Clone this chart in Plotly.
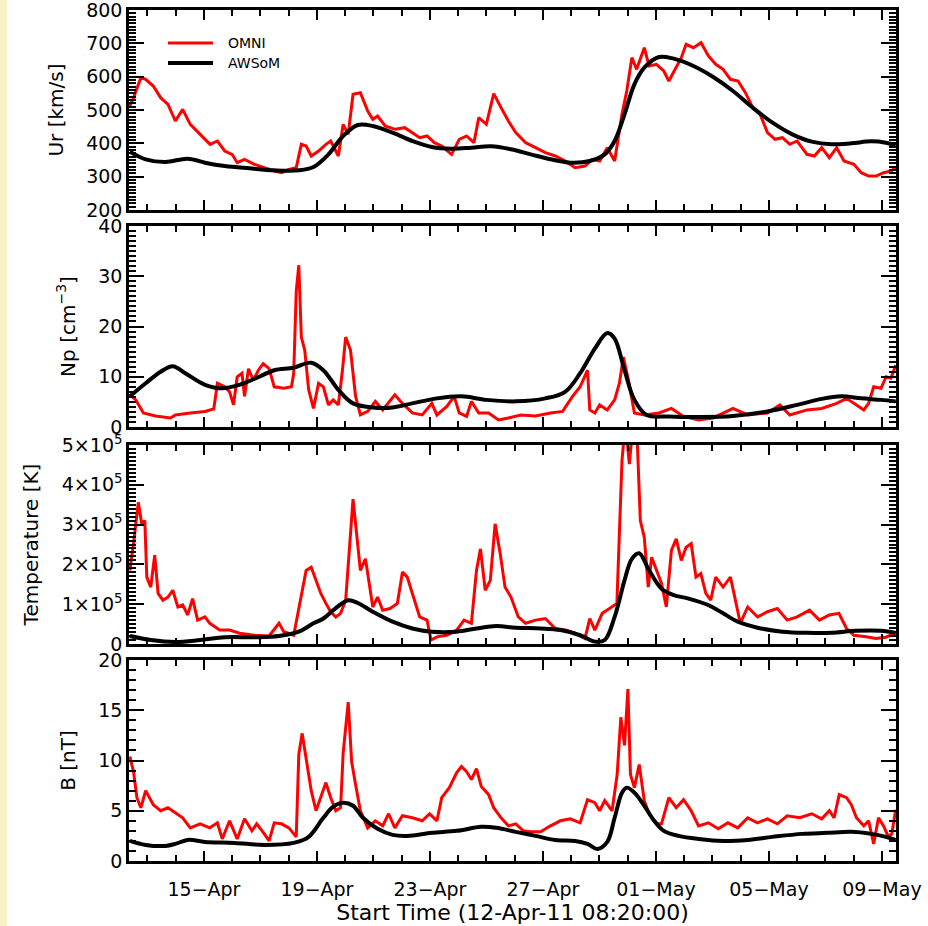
import plotly.graph_objects as go
import pandas as pd

START = "2011-04-12 08:20:00"
END_DAYS = 27.15

# ---------------- Ur [km/s] ----------------
ur_omni_day = [0.03, 0.16, 0.42, 0.59, 0.86, 1.12, 1.38, 1.64, 1.90, 2.17, 2.52, 2.87, 3.13, 3.39, 3.65, 3.83,
               4.09, 4.44, 4.79, 5.14, 5.40, 5.66, 5.92, 6.10, 6.27, 6.45, 6.71, 6.97, 7.14, 7.41, 7.58, 7.76,
               7.93, 8.19, 8.45, 8.63, 8.80, 9.07, 9.42, 9.76, 10.03, 10.29, 10.55, 10.81, 11.07, 11.42, 11.69,
               11.95, 12.21, 12.38, 12.65, 12.91, 13.17, 13.43, 13.69, 14.04, 14.39, 14.74, 15.09, 15.44, 15.79,
               16.14, 16.40, 16.66, 16.93, 17.19, 17.45, 17.62, 17.80, 17.97, 18.24, 18.41, 18.67, 18.93, 19.11,
               19.37, 19.55, 19.72, 19.98, 20.25, 20.51, 20.77, 21.03, 21.29, 21.56, 21.82, 22.08, 22.34, 22.60,
               22.87, 23.13, 23.39, 23.65, 24.00, 24.26, 24.52, 24.79, 25.05, 25.31, 25.66, 25.92, 26.18, 26.45,
               26.71, 26.97, 27.14]
ur_omni = [512, 537, 597, 592, 572, 537, 517, 467, 502, 457, 427, 397, 407, 377, 367, 342,
           352, 337, 327, 317, 312, 322, 327, 397, 392, 362, 377, 397, 407, 362, 457, 427,
           547, 552, 497, 472, 482, 452, 442, 447, 432, 417, 422, 402, 392, 367, 412,
           422, 402, 477, 457, 549, 507, 467, 432, 402, 387, 372, 362, 347, 327,
           332, 352, 347, 387, 347, 487, 557, 657, 622, 687, 632, 637, 617, 587,
           627, 657, 697, 687, 702, 662, 637, 622, 592, 587, 552, 507, 487, 432,
           412, 417, 397, 407, 367, 362, 387, 357, 387, 347, 337, 312, 302, 302,
           312, 317, 327]

ur_awsom_day = [0.03, 0.59, 1.29, 2.08, 2.69, 3.39, 4.26, 5.14, 6.01, 6.53, 7.06, 7.58, 8.10, 8.63, 9.33, 10.03,
                10.72, 11.42, 12.12, 12.82, 13.52, 14.22, 14.92, 15.62, 16.31, 16.84, 17.19, 17.54, 17.89, 18.24,
                18.76, 19.28, 19.98, 20.68, 21.38, 22.08, 22.78, 23.48, 24.17, 24.87, 25.57, 26.27, 26.79, 27.14]
ur_awsom = [375, 352, 344, 354, 342, 332, 325, 319, 319, 329, 367, 422, 455, 452, 432, 407,
            389, 384, 387, 391, 382, 367, 352, 342, 347, 367, 407, 487, 577, 627,
            659, 654, 632, 599, 557, 507, 462, 427, 405, 397, 400, 406, 402, 394]

# ---------------- Np [cm^-3] ----------------
np_omni_day = [0.03, 0.24, 0.51, 0.94, 1.47, 1.64, 2.17, 2.69, 3.00, 3.13, 3.39, 3.56, 3.70, 3.83, 4.00, 4.09,
               4.23, 4.40, 4.58, 4.75, 4.96, 5.14, 5.48, 5.75, 5.83, 5.92, 6.01, 6.10, 6.22, 6.36, 6.53, 6.71,
               6.88, 7.06, 7.23, 7.41, 7.55, 7.67, 7.84, 8.02, 8.19, 8.45, 8.72, 8.98, 9.41, 9.68, 10.03, 10.38,
               10.72, 10.90, 11.25, 11.51, 11.69, 11.95, 12.12, 12.38, 12.73, 13.08, 13.43, 13.87, 14.39, 14.92,
               15.35, 15.70, 15.97, 16.23, 16.31, 16.49, 16.66, 16.93, 17.19, 17.36, 17.50, 17.68, 17.89, 18.24,
               18.76, 19.20, 19.63, 20.16, 20.68, 21.38, 21.90, 22.60, 23.04, 23.39, 24.00, 24.52, 25.05, 25.40,
               25.75, 26.01, 26.18, 26.36, 26.62, 26.80, 26.97, 27.14]
np_omni = [6.4, 5.4, 2.8, 2.2, 1.8, 2.4, 2.8, 3.1, 3.6, 8.7, 8.0, 7.0, 4.4, 10.0, 10.7, 6.1,
           11.6, 9.3, 11.3, 12.6, 11.6, 8.0, 7.7, 8.0, 10.7, 27.0, 32.2, 17.9, 15.3, 7.4, 3.7, 8.7,
           8.0, 4.4, 5.4, 4.4, 11.0, 17.9, 15.3, 6.1, 2.4, 3.1, 5.1, 3.4, 6.4, 4.7, 2.8, 2.4,
           4.7, 2.4, 4.1, 6.1, 2.8, 2.1, 5.1, 2.8, 2.8, 1.4, 1.8, 2.4, 2.2, 2.8,
           3.1, 6.1, 8.0, 11.3, 3.4, 2.8, 4.4, 3.4, 5.4, 8.7, 13.9, 9.3, 2.8, 2.4,
           2.8, 3.7, 2.1, 1.4, 1.8, 3.7, 2.4, 2.8, 4.4, 2.4, 3.4, 3.7, 4.7, 5.7,
           4.4, 3.4, 4.7, 8.0, 7.7, 10.0, 9.7, 12.3]

np_awsom_day = [0.03, 0.59, 1.12, 1.55, 1.99, 2.69, 3.30, 3.91, 4.61, 5.14, 5.83, 6.45, 6.88, 7.41, 7.93, 8.63,
                9.33, 10.03, 10.90, 11.77, 12.65, 13.69, 14.74, 15.44, 15.97, 16.49, 16.93, 17.19, 17.54, 17.89,
                18.32, 19.11, 20.16, 21.38, 22.60, 23.65, 24.52, 25.22, 25.92, 26.62, 27.14]
np_awsom = [6.1, 8.7, 11.0, 12.1, 10.7, 8.4, 7.7, 8.4, 10.0, 11.3, 11.8, 12.8, 11.3, 7.4, 4.7, 3.9,
            3.9, 4.7, 5.7, 6.1, 5.4, 5.1, 5.7, 7.0, 10.7, 15.6, 18.7, 17.6, 11.3, 5.4,
            2.4, 2.1, 2.0, 2.2, 3.1, 4.4, 5.6, 6.1, 5.7, 5.4, 5.1]

# ---------------- Temperature [K] (units of 1e5) ----------------
t_omni_day = [0.03, 0.16, 0.33, 0.45, 0.56, 0.63, 0.77, 0.91, 1.03, 1.20, 1.38, 1.55, 1.73, 1.90, 2.08, 2.25,
              2.43, 2.69, 2.86, 3.21, 3.56, 3.91, 4.44, 4.96, 5.31, 5.48, 5.83, 6.10, 6.27, 6.45, 6.62, 6.79,
              6.97, 7.14, 7.32, 7.49, 7.67, 7.79, 7.93, 8.07, 8.19, 8.37, 8.49, 8.63, 8.80, 8.98, 9.24, 9.50,
              9.68, 9.85, 10.03, 10.29, 10.55, 10.69, 10.90, 11.25, 11.60, 11.86, 12.12, 12.30, 12.44, 12.61,
              12.79, 12.96, 13.14, 13.31, 13.52, 13.78, 14.04, 14.39, 14.74, 15.09, 15.44, 15.79, 16.14, 16.31,
              16.49, 16.75, 17.01, 17.27, 17.45, 17.57, 17.71, 17.85, 17.97, 18.10, 18.24, 18.38, 18.50, 18.67,
              18.85, 19.02, 19.20, 19.37, 19.55, 19.72, 19.90, 20.07, 20.24, 20.42, 20.59, 20.77, 21.03, 21.29,
              21.47, 21.64, 21.90, 22.25, 22.60, 22.95, 23.30, 23.65, 24.09, 24.44, 24.79, 25.13, 25.40, 25.66,
              26.09, 26.44, 26.79, 27.14]
t_omni = [1.85, 2.52, 3.56, 3.02, 3.10, 1.68, 1.43, 2.23, 1.27, 1.10, 1.18, 1.35, 0.93, 0.98, 0.73, 1.14,
          0.60, 0.68, 0.52, 0.35, 0.35, 0.27, 0.22, 0.20, 0.52, 0.31, 0.22, 1.18, 1.85, 1.93, 1.60, 1.27,
          1.02, 0.81, 0.68, 0.77, 1.10, 2.27, 3.64, 2.68, 1.85, 2.14, 1.52, 0.93, 1.18, 0.85, 0.89, 1.02,
          1.81, 1.68, 1.27, 0.68, 0.60, 0.10, 0.18, 0.22, 0.35, 0.60, 0.52, 1.85, 2.39, 1.35,
          1.60, 3.02, 2.27, 1.43, 1.18, 0.68, 0.52, 0.60, 0.64, 0.39, 0.35, 0.27, 0.14, 0.64,
          0.35, 0.77, 0.89, 1.02, 4.60, 5.60, 4.52, 5.60, 5.50, 3.10, 2.68, 1.43, 2.18, 1.85,
          1.52, 0.93, 2.35, 2.64, 2.10, 2.43, 2.52, 1.68, 1.77, 1.27, 1.10, 1.68, 1.43, 1.68,
          1.10, 0.52, 0.93, 0.68, 0.81, 0.89, 0.60, 0.68, 0.85, 0.60, 0.73, 0.77, 0.39, 0.22,
          0.18, 0.14, 0.17, 0.27]

t_awsom_day = [0.03, 0.77, 1.64, 2.52, 3.39, 4.44, 5.31, 6.01, 6.53, 6.88, 7.23, 7.76, 8.10, 8.63, 9.33, 10.03,
               10.72, 11.60, 12.30, 13.00, 13.69, 14.57, 15.27, 15.97, 16.49, 16.84, 17.19, 17.54, 17.80, 18.06,
               18.41, 18.85, 19.28, 19.81, 20.50, 21.03, 21.55, 22.25, 23.13, 24.00, 24.87, 25.75, 26.62, 27.14]
t_awsom = [0.20, 0.10, 0.05, 0.10, 0.17, 0.17, 0.20, 0.31, 0.52, 0.64, 0.85, 1.10, 1.03, 0.81, 0.56, 0.39,
           0.31, 0.31, 0.39, 0.45, 0.41, 0.39, 0.35, 0.22, 0.06, 0.10, 0.68, 1.60, 2.14, 2.28,
           1.85, 1.39, 1.23, 1.14, 0.98, 0.77, 0.56, 0.41, 0.31, 0.28, 0.28, 0.33, 0.33, 0.28]

# ---------------- B [nT] ----------------
b_omni_day = [0.03, 0.16, 0.28, 0.42, 0.59, 0.86, 1.12, 1.38, 1.64, 1.90, 2.17, 2.52, 2.86, 3.13, 3.30, 3.56,
              3.83, 4.09, 4.35, 4.52, 4.79, 4.96, 5.14, 5.40, 5.66, 5.92, 6.01, 6.13, 6.27, 6.45, 6.62, 6.79,
              6.97, 7.14, 7.32, 7.49, 7.58, 7.76, 7.88, 8.02, 8.19, 8.45, 8.72, 8.98, 9.19, 9.41, 9.68, 10.03,
              10.38, 10.64, 10.90, 11.07, 11.34, 11.60, 11.77, 11.95, 12.12, 12.30, 12.47, 12.73, 12.91, 13.17,
              13.43, 13.69, 13.96, 14.22, 14.57, 14.92, 15.27, 15.62, 15.97, 16.23, 16.49, 16.66, 16.84, 17.10,
              17.28, 17.41, 17.54, 17.66, 17.75, 17.89, 18.06, 18.24, 18.41, 18.67, 18.85, 19.11, 19.37, 19.63,
              19.90, 20.16, 20.51, 20.86, 21.20, 21.55, 21.90, 22.25, 22.60, 22.95, 23.30, 23.74, 24.17, 24.52,
              24.79, 24.96, 25.14, 25.40, 25.57, 25.75, 26.01, 26.18, 26.36, 26.53, 26.71, 26.88, 27.00, 27.14]
b_omni = [10.4, 8.9, 6.3, 5.3, 7.0, 5.6, 5.0, 5.3, 4.8, 4.3, 3.3, 3.7, 3.3, 3.8, 2.2, 4.0,
          2.2, 4.2, 3.0, 3.7, 2.7, 2.0, 3.8, 3.7, 3.3, 2.4, 10.6, 12.7, 10.2, 7.0, 5.0, 6.3,
          7.8, 6.3, 5.0, 5.3, 10.7, 15.8, 9.9, 7.6, 5.0, 3.3, 4.0, 3.5, 4.7, 3.3, 4.5, 4.3,
          4.0, 4.7, 4.0, 6.3, 7.3, 8.8, 9.4, 8.9, 8.1, 9.2, 7.4, 6.6, 5.3, 4.3,
          3.5, 3.7, 3.0, 2.9, 2.9, 3.5, 4.0, 4.2, 3.8, 6.1, 5.8, 5.0, 6.0, 5.0,
          8.6, 14.3, 11.5, 17.1, 8.6, 7.3, 9.6, 6.0, 4.7, 3.7, 3.7, 6.3, 5.3, 6.1,
          5.0, 3.5, 3.8, 3.2, 3.8, 3.3, 4.3, 3.8, 4.2, 3.7, 4.5, 4.3, 4.7, 4.2,
          5.0, 4.3, 6.6, 6.3, 5.6, 4.3, 3.5, 4.0, 1.7, 4.3, 3.5, 2.4, 2.7, 5.1]

b_awsom_day = [0.03, 0.59, 1.29, 1.64, 2.08, 2.69, 3.74, 4.79, 5.83, 6.36, 6.88, 7.23, 7.58, 7.93, 8.28, 8.80,
               9.33, 9.85, 10.72, 11.60, 12.47, 13.00, 13.69, 14.39, 15.09, 15.79, 16.23, 16.58, 16.93, 17.19,
               17.45, 17.62, 17.89, 18.24, 18.59, 18.93, 19.46, 20.16, 21.03, 21.90, 22.78, 23.83, 24.70, 25.57,
               26.27, 26.79, 27.14]
b_awsom = [2.0, 1.6, 1.5, 1.7, 2.1, 1.9, 1.8, 1.6, 1.8, 2.4, 4.3, 5.4, 5.8, 5.5, 4.3, 3.2,
           2.6, 2.5, 2.8, 3.0, 3.4, 3.3, 2.9, 2.5, 2.1, 2.0, 1.7, 1.2, 1.9, 4.3,
           6.8, 7.3, 6.8, 5.5, 4.0, 3.0, 2.5, 2.2, 2.0, 2.1, 2.4, 2.7, 2.8, 2.9,
           2.7, 2.4, 2.1]

# ---------------- axis labels ----------------
x_tick_dates = ["2011-04-15", "2011-04-19", "2011-04-23", "2011-04-27", "2011-05-01", "2011-05-05", "2011-05-09"]
x_tick_text = ["15−Apr", "19−Apr", "23−Apr", "27−Apr", "01−May", "05−May", "09−May"]
temp_tick_vals = [0, 1e5, 2e5, 3e5, 4e5, 5e5]
temp_tick_text = ["0", "1×10<sup>5</sup>", "2×10<sup>5</sup>", "3×10<sup>5</sup>",
                  "4×10<sup>5</sup>", "5×10<sup>5</sup>"]
legend_names = ["OMNI", "AWSoM"]

start = pd.Timestamp(START)


def to_time(days):
    return [start + pd.to_timedelta(d, unit="D") for d in days]


W, H = 928, 926
FONT = "DejaVu Sans"
RED = "#FF0000"
DAY_MS = 86400000

x0 = 129 / W
x1 = 896 / W
panels_px = [(10, 210), (226, 427), (445, 644), (660, 861)]
ydom = [[1 - b / H, 1 - t / H] for t, b in panels_px]

fig = go.Figure()

series = [
    (ur_omni_day, ur_omni, ur_awsom_day, ur_awsom, 1.0),
    (np_omni_day, np_omni, np_awsom_day, np_awsom, 1.0),
    (t_omni_day, t_omni, t_awsom_day, t_awsom, 1e5),
    (b_omni_day, b_omni, b_awsom_day, b_awsom, 1.0),
]
for k, (od, ov, ad, av, scale) in enumerate(series, start=1):
    xa = "x" if k == 1 else f"x{k}"
    ya = "y" if k == 1 else f"y{k}"
    fig.add_trace(go.Scatter(x=to_time(od), y=[v * scale for v in ov], mode="lines",
                             line=dict(color=RED, width=3), name=legend_names[0],
                             showlegend=False, xaxis=xa, yaxis=ya))
    fig.add_trace(go.Scatter(x=to_time(ad), y=[v * scale for v in av], mode="lines",
                             line=dict(color="black", width=4, shape="spline", smoothing=1.0),
                             name=legend_names[1], showlegend=False, xaxis=xa, yaxis=ya))

xrange = [start, start + pd.to_timedelta(END_DAYS, unit="D")]

ycfgs = [
    dict(range=[200, 800], dtick=100, title_text="Ur [km/s]"),
    dict(range=[0, 40], dtick=10, title_text="Np [cm<sup>−3</sup>]"),
    dict(range=[0, 5e5], tickmode="array", tickvals=temp_tick_vals, ticktext=temp_tick_text,
         title_text="Temperature [K]"),
    dict(range=[0, 20], dtick=5, title_text="B [nT]"),
]
y_minor_step = [10, 1, 1e4, 1]

layout_axes = {}
for k in range(1, 5):
    xkey = "xaxis" if k == 1 else f"xaxis{k}"
    ykey = "yaxis" if k == 1 else f"yaxis{k}"
    ya = "y" if k == 1 else f"y{k}"
    xa = "x" if k == 1 else f"x{k}"

    xcfg = dict(type="date", range=xrange, domain=[x0, x1], anchor=ya,
                showline=True, linecolor="black", linewidth=2.5, mirror="ticks",
                ticks="inside", ticklen=10, tickwidth=2, tickcolor="black",
                tickmode="array", tickvals=x_tick_dates, ticktext=x_tick_text,
                showticklabels=(k == 4), ticklabelstandoff=9, showgrid=False, zeroline=False,
                automargin=False, ticklabeloverflow="allow",
                tickfont=dict(family=FONT, size=19, color="black"),
                minor=dict(ticks="inside", ticklen=6, tickwidth=1.5, tickcolor="black",
                           tickmode="linear", tick0="2011-04-15", dtick=DAY_MS))
    if k == 4:
        xcfg["title"] = dict(text="Start Time (12-Apr-11 08:20:00)",
                             font=dict(family=FONT, size=22, color="black"), standoff=2)
    layout_axes[xkey] = xcfg

    yc = dict(ycfgs[k - 1])
    title_text = yc.pop("title_text")
    ycfg = dict(domain=ydom[k - 1], anchor=xa,
                showline=True, linecolor="black", linewidth=2.5, mirror="ticks",
                ticks="inside", ticklen=15, tickwidth=2, tickcolor="black",
                showgrid=False, zeroline=False, automargin=False, ticklabeloverflow="allow",
                tickfont=dict(family=FONT, size=19, color="black"),
                title=dict(text=title_text, font=dict(family=FONT, size=20, color="black"), standoff=18),
                minor=dict(ticks="inside", ticklen=7, tickwidth=1.5, tickcolor="black",
                           dtick=y_minor_step[k - 1]),
                **yc)
    layout_axes[ykey] = ycfg

fig.update_layout(**layout_axes)

# legend drawn as line samples with labels (top-left of the first panel)
legend_rows = [(43, RED, 3), (63, "black", 4)]
for (ly, col, lw), name in zip(legend_rows, legend_names):
    fig.add_shape(type="line", xref="paper", yref="paper", x0=168 / W, x1=213 / W,
                  y0=1 - ly / H, y1=1 - ly / H, line=dict(color=col, width=lw))
    fig.add_annotation(xref="paper", yref="paper", x=226 / W, y=1 - ly / H, text=name,
                       showarrow=False, xanchor="left", yanchor="middle",
                       font=dict(family=FONT, size=14, color="black"))

# pale yellow strip on the left edge of the page
fig.add_shape(type="rect", xref="paper", yref="paper", x0=0, x1=7 / W, y0=0, y1=1,
              fillcolor="#FAF1C6", line=dict(width=0), layer="below")

fig.update_layout(
    width=W, height=H,
    margin=dict(l=0, r=0, t=0, b=0, autoexpand=False),
    paper_bgcolor="white", plot_bgcolor="white",
    font=dict(family=FONT, size=18, color="black"),
    showlegend=False,
)

fig.write_html("out.html")
